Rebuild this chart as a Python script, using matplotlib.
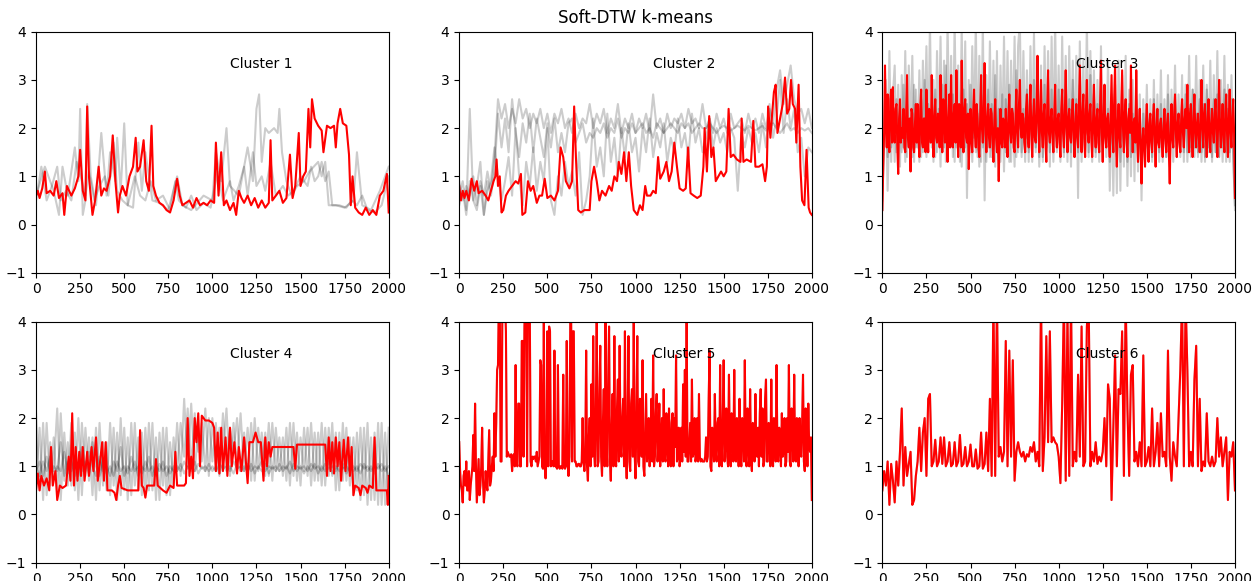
import numpy as np
import matplotlib
matplotlib.use("Agg")
import matplotlib.pyplot as plt

SZ = 2000
TITLE = "Soft-DTW k-means"
LABELS = ["Cluster 1", "Cluster 2", "Cluster 3", "Cluster 4", "Cluster 5", "Cluster 6"]

# ---- cluster 1 (irregular samples: (t, value)) ----
c1_members = [
    [(0, 0.6), (50, 1.2), (100, 0.7), (130, 0.2), (150, 1.2), (180, 0.6), (220, 1.6), (240, 0.9), (250, 2.4),
     (265, 0.2), (280, 0.5), (290, 2.5), (310, 1.0), (340, 0.4), (370, 1.9), (400, 0.6), (420, 1.5), (450, 0.9),
     (460, 1.8), (480, 0.7), (500, 2.1), (520, 0.4), (550, 0.35), (580, 1.7), (600, 0.7), (620, 1.5), (640, 1.0),
     (660, 0.5), (700, 0.45), (750, 0.3), (800, 1.0), (830, 0.4), (880, 0.3), (950, 0.6), (1000, 0.5), (1020, 1.5),
     (1050, 0.9), (1080, 2.0), (1100, 0.8), (1150, 0.6), (1200, 1.6), (1230, 0.9), (1250, 2.4), (1265, 2.7),
     (1280, 1.3), (1300, 2.0), (1320, 1.9), (1350, 2.0), (1370, 1.9), (1380, 2.4), (1395, 1.5), (1420, 0.9),
     (1450, 0.6), (1480, 0.8), (1520, 0.9), (1550, 1.1), (1600, 1.3), (1620, 1.0), (1640, 1.3), (1660, 0.4),
     (1700, 0.4), (1750, 0.35), (1800, 0.5), (1820, 1.5), (1850, 0.4), (1900, 0.3), (1950, 0.7), (2000, 1.2)],
    [(0, 0.5), (30, 1.2), (60, 0.5), (90, 0.8), (120, 1.2), (140, 0.5), (170, 0.7), (200, 0.5), (230, 1.3),
     (260, 0.9), (280, 0.6), (300, 1.1), (330, 0.5), (360, 0.8), (390, 1.0), (410, 0.6), (440, 1.7), (460, 0.7),
     (490, 0.5), (520, 0.4), (560, 1.0), (590, 0.6), (620, 0.5), (650, 0.9), (680, 0.5), (720, 0.6), (760, 0.3),
     (790, 0.9), (810, 0.5), (850, 0.35), (880, 0.6), (910, 0.3), (950, 0.45), (990, 0.35), (1030, 1.1),
     (1060, 0.5), (1100, 0.9), (1120, 0.5), (1150, 0.8), (1180, 1.2), (1200, 0.6), (1230, 1.5), (1250, 0.8),
     (1280, 1.0), (1300, 0.7), (1330, 1.3), (1360, 0.6), (1400, 0.8), (1430, 0.6), (1460, 0.7), (1500, 1.0),
     (1540, 0.8), (1560, 1.2), (1580, 0.9), (1600, 1.0), (1620, 1.3), (1640, 0.9), (1660, 1.1), (1680, 0.4),
     (1720, 0.4), (1760, 0.35), (1790, 0.5), (1820, 0.4), (1850, 0.6), (1880, 0.3), (1920, 0.25), (1960, 0.4),
     (2000, 1.0)],
]
c1_center = [
    (0, 0.6), (10, 0.7), (20, 0.55), (35, 0.75), (50, 1.1), (60, 0.65), (80, 0.7), (100, 0.6), (115, 0.9),
    (130, 0.55), (150, 0.65), (160, 0.2), (175, 0.8), (200, 0.6), (220, 0.75), (240, 1.0), (250, 1.55), (265, 0.7),
    (280, 0.5), (290, 2.45), (300, 1.0), (310, 0.6), (320, 0.2), (335, 0.5), (355, 1.2), (370, 0.6), (385, 0.75),
    (400, 0.7), (420, 1.0), (435, 1.85), (450, 0.9), (465, 0.25), (475, 0.6), (490, 0.8), (510, 0.6), (530, 1.0),
    (550, 1.2), (565, 1.8), (575, 1.1), (590, 1.2), (610, 1.75), (625, 0.9), (640, 0.7), (655, 2.05), (665, 0.8),
    (680, 0.6), (700, 0.45), (720, 0.4), (740, 0.3), (760, 0.25), (780, 0.5), (800, 0.95), (815, 0.6), (830, 0.4),
    (850, 0.45), (870, 0.5), (890, 0.35), (910, 0.55), (930, 0.4), (950, 0.45), (970, 0.4), (990, 0.5),
    (1010, 0.45), (1020, 1.7), (1035, 0.6), (1050, 1.5), (1065, 0.4), (1080, 0.5), (1100, 0.3), (1120, 0.45),
    (1135, 0.2), (1150, 0.7), (1165, 0.55), (1180, 0.45), (1200, 0.6), (1220, 0.4), (1240, 0.55), (1260, 0.35),
    (1280, 0.5), (1300, 0.35), (1320, 0.45), (1330, 1.75), (1340, 0.5), (1360, 0.6), (1380, 0.7), (1400, 0.45),
    (1420, 0.55), (1440, 1.45), (1455, 0.55), (1470, 0.8), (1490, 1.9), (1500, 0.8), (1515, 1.0), (1530, 1.1),
    (1545, 2.4), (1555, 1.6), (1565, 2.6), (1580, 2.2), (1600, 2.05), (1620, 1.95), (1630, 1.5), (1650, 2.05),
    (1670, 2.0), (1690, 2.05), (1700, 1.6), (1710, 2.1), (1725, 2.4), (1740, 2.1), (1760, 2.05), (1775, 1.45),
    (1785, 0.4), (1795, 1.0), (1810, 0.35), (1830, 0.25), (1850, 0.2), (1870, 0.35), (1890, 0.2), (1910, 0.3),
    (1930, 0.2), (1950, 0.6), (1970, 0.7), (1990, 1.05), (2000, 0.25),
]

# ---- cluster 2 (members on a 20-step grid) ----
c2_members = [
    [0.9, 0.5, 0.8, 0.6, 1.0, 0.4, 0.9, 0.6, 1.1, 0.7,
     1.4, 2.6, 2.2, 2.5, 2.0, 2.4, 2.1, 2.6, 2.2, 2.4,
     2.0, 2.3, 2.1, 2.4, 2.0, 2.3, 1.9, 2.3, 2.1, 2.4,
     2.0, 2.2, 1.9, 2.3, 2.0, 2.2, 2.1, 2.5, 2.0, 2.3,
     2.1, 2.4, 1.9, 2.2, 2.0, 2.5, 1.9, 2.2, 2.0, 2.3,
     1.9, 2.2, 2.0, 2.3, 1.9, 2.7, 2.0, 2.2, 1.9, 2.3,
     2.0, 2.2, 2.1, 2.3, 2.0, 2.4, 2.1, 2.2, 2.0, 2.5,
     2.0, 2.2, 1.9, 2.3, 2.0, 2.2, 1.9, 2.3, 2.0, 2.1,
     2.2, 1.9, 2.3, 2.0, 2.2, 1.9, 2.3, 2.0, 2.4, 2.1,
     2.8, 3.2, 2.5, 2.9, 3.3, 2.6, 2.3, 2.4, 2.1, 2.4,
     2.0],
    [0.6, 0.9, 0.3, 2.4, 0.5, 0.8, 1.3, 0.2, 0.9, 0.6,
     1.1, 2.3, 1.6, 2.2, 1.5, 2.6, 1.9, 1.4, 2.1, 1.7,
     2.3, 1.5, 2.2, 1.8, 1.4, 2.1, 1.6, 2.2, 1.5, 1.9,
     1.5, 2.1, 2.2, 1.7, 1.9, 2.1, 1.7, 1.9, 1.8, 2.0,
     1.9, 2.1, 1.8, 2.0, 1.9, 2.2, 1.8, 2.0, 1.9, 2.1,
     1.9, 2.0, 2.1, 1.9, 2.0, 1.8, 2.1, 2.0, 1.9, 2.0,
     2.1, 2.0, 1.9, 2.1, 2.0, 2.1, 1.9, 2.0, 2.1, 2.0,
     2.0, 2.1, 2.0, 1.9, 2.0, 2.05, 2.0, 1.95, 2.0, 2.05,
     2.0, 1.95, 2.05, 2.0, 1.95, 2.0, 2.05, 1.95, 2.0, 2.1,
     2.0, 1.9, 2.0, 2.1, 1.95, 2.0, 1.9, 2.0, 1.95, 2.0,
     1.9],
    [0.4, 0.7, 0.2, 0.9, 0.5, 0.3, 0.8, 0.2, 0.7, 0.9,
     1.6, 1.0, 0.5, 0.9, 1.4, 0.6, 2.0, 1.0, 0.4, 1.3,
     0.8, 1.6, 0.7, 1.3, 0.9, 2.0, 0.5, 0.2, 1.0, 0.6,
     1.3, 0.8, 1.1, 0.6, 1.5, 0.2, 0.5, 1.0, 2.2, 1.2,
     1.6, 1.0, 2.3, 1.3, 1.8, 1.0, 2.0, 1.4, 2.1, 1.5,
     1.8, 1.1, 2.0, 1.5, 2.2, 1.4, 1.9, 1.6, 2.1, 1.3,
     1.8, 1.5, 2.2, 1.6, 1.9, 1.4, 2.3, 1.7, 2.0, 1.5,
     1.8, 2.2, 1.6, 2.0, 1.7, 1.9, 1.5, 2.0, 1.8, 0.7,
     1.9, 1.6, 2.0, 1.7, 1.9, 1.5, 2.1, 1.6, 2.5, 1.8,
     2.2, 3.0, 1.9, 2.6, 2.0, 2.4, 1.5, 1.8, 1.0, 1.6,
     1.5],
]
c2_center = [
    (0, 0.8), (10, 0.5), (20, 0.7), (30, 0.55), (40, 0.7), (55, 0.5), (70, 0.95), (85, 0.7), (100, 0.9),
    (110, 0.65), (130, 0.7), (150, 0.6), (165, 0.5), (180, 0.7), (195, 0.9), (205, 1.0), (212, 1.35), (220, 0.8),
    (230, 1.0), (240, 0.25), (250, 0.3), (265, 0.6), (280, 0.7), (300, 0.8), (320, 0.9), (335, 0.85), (350, 1.05),
    (358, 0.2), (375, 0.25), (390, 0.9), (405, 0.7), (420, 0.8), (440, 0.45), (455, 0.6), (470, 0.6), (485, 0.95),
    (500, 0.55), (520, 0.6), (540, 0.5), (560, 0.7), (575, 1.6), (590, 1.4), (605, 0.9), (625, 0.75), (640, 0.9),
    (652, 2.45), (662, 1.4), (675, 0.3), (690, 0.25), (710, 0.3), (740, 0.3), (750, 0.9), (765, 1.2), (780, 0.9),
    (795, 0.5), (810, 0.7), (830, 0.6), (850, 0.8), (865, 0.7), (880, 1.0), (895, 0.9), (905, 1.3), (920, 1.05),
    (935, 1.5), (948, 0.9), (962, 1.5), (975, 0.8), (990, 0.3), (1010, 0.2), (1025, 0.4), (1040, 0.3), (1055, 0.8),
    (1065, 0.6), (1085, 0.6), (1100, 0.7), (1115, 0.65), (1128, 1.4), (1140, 0.95), (1160, 1.1), (1175, 1.3),
    (1190, 0.9), (1205, 1.1), (1220, 1.7), (1235, 1.2), (1250, 0.75), (1270, 0.7), (1285, 0.75), (1298, 1.6),
    (1312, 0.65), (1330, 0.6), (1350, 0.55), (1370, 0.6), (1385, 1.2), (1392, 2.0), (1405, 1.1), (1418, 2.25),
    (1430, 1.4), (1442, 1.6), (1455, 0.9), (1470, 1.0), (1485, 1.1), (1500, 1.0), (1515, 1.1), (1528, 2.4),
    (1540, 1.4), (1555, 1.45), (1575, 1.35), (1595, 1.3), (1602, 2.2), (1612, 1.3), (1630, 1.35), (1655, 1.3),
    (1668, 2.15), (1680, 1.2), (1700, 1.2), (1720, 1.25), (1735, 0.9), (1745, 1.2), (1752, 2.45), (1765, 1.8),
    (1775, 2.3), (1785, 2.75), (1795, 2.9), (1805, 1.9), (1820, 2.2), (1835, 2.5), (1848, 3.05), (1860, 2.3),
    (1872, 2.4), (1882, 3.0), (1892, 2.5), (1905, 2.4), (1912, 1.7), (1925, 2.9), (1935, 1.2), (1945, 0.5),
    (1958, 0.4), (1970, 1.55), (1982, 0.35), (1990, 0.25), (2000, 0.2),
]

# ---- cluster 3 (members on a 10-step grid, centroid on a 5-step grid) ----
c3_members = [
    [0.3, 2.2, 3.0, 1.4, 3.6, 1.3, 2.7, 3.3, 1.5, 2.9,
     1.2, 3.1, 1.6, 3.6, 1.4, 3.3, 1.8, 3.5, 1.3, 2.8,
     1.6, 3.2, 1.4, 3.4, 2.0, 3.7, 1.5, 4.2, 1.6, 3.0,
     1.4, 3.6, 1.8, 3.9, 1.5, 3.4, 1.3, 4.2, 1.7, 3.5,
     1.4, 4.2, 1.6, 3.3, 1.3, 4.1, 1.5, 3.8, 0.55, 3.0,
     1.5, 3.7, 1.8, 4.2, 1.4, 3.5, 1.3, 4.2, 0.5, 3.1,
     1.6, 3.8, 1.4, 3.4, 1.2, 3.6, 1.0, 3.3, 1.7, 3.9,
     1.5, 3.6, 1.3, 3.4, 1.8, 3.9, 1.4, 3.7, 4.2, 1.5,
     3.6, 1.6, 3.2, 1.3, 3.7, 1.5, 4.0, 1.6, 3.5, 1.4,
     3.3, 1.3, 3.7, 1.6, 3.6, 1.2, 3.9, 1.5, 4.2, 1.6,
     3.3, 1.4, 3.9, 1.5, 3.5, 1.3, 3.7, 1.5, 3.4, 1.4,
     3.5, 0.55, 3.8, 1.6, 3.4, 1.4, 4.2, 1.5, 3.6, 1.5,
     3.2, 1.4, 3.0, 1.5, 3.7, 1.3, 2.9, 1.6, 3.4, 0.7,
     2.7, 0.6, 2.9, 0.65, 3.4, 0.7, 3.1, 1.2, 3.5, 0.8,
     2.8, 1.0, 3.0, 0.9, 3.2, 1.1, 2.7, 0.5, 2.6, 1.4,
     2.9, 1.5, 2.6, 1.3, 3.0, 1.4, 2.7, 1.5, 3.2, 1.3,
     2.6, 1.4, 3.1, 1.2, 2.8, 1.6, 3.3, 1.4, 2.7, 1.5,
     3.1, 1.3, 2.9, 1.5, 3.5, 1.4, 2.8, 1.6, 3.5, 1.4,
     3.0, 1.5, 3.3, 1.3, 2.9, 1.6, 3.4, 1.4, 3.1, 1.5,
     3.6, 1.4, 3.0, 1.6, 3.5, 1.3, 2.9, 1.5, 3.1, 1.4,
     0.3],
    [0.5, 1.7, 2.5, 0.7, 2.2, 1.6, 2.4, 1.3, 2.6, 1.8,
     2.3, 1.5, 2.9, 1.3, 2.5, 1.7, 2.2, 1.4, 2.9, 1.6,
     2.4, 1.3, 2.6, 1.5, 3.0, 1.4, 2.5, 1.7, 2.3, 1.3,
     2.8, 1.5, 2.4, 1.2, 2.9, 1.6, 3.3, 1.4, 2.5, 1.8,
     2.7, 1.3, 3.0, 1.5, 2.4, 1.2, 2.8, 1.6, 2.5, 1.4,
     2.9, 1.3, 2.6, 1.5, 2.3, 1.2, 3.0, 1.6, 2.4, 1.3,
     2.8, 1.4, 2.5, 1.3, 3.1, 1.5, 2.4, 1.3, 2.7, 1.1,
     2.6, 1.5, 2.9, 1.3, 2.4, 1.2, 3.2, 1.5, 2.6, 1.4,
     2.4, 1.3, 2.8, 1.5, 2.5, 1.3, 3.0, 1.5, 2.7, 1.2,
     2.6, 1.4, 2.9, 1.3, 2.5, 1.5, 2.8, 1.3, 2.4, 1.5,
     2.8, 1.3, 2.5, 1.4, 2.9, 1.5, 2.6, 1.2, 3.0, 1.4,
     2.6, 1.5, 2.9, 1.3, 2.4, 1.5, 2.7, 1.4, 3.1, 1.3,
     2.7, 1.5, 2.5, 1.3, 2.8, 1.5, 2.6, 1.4, 2.4, 1.3,
     2.2, 1.5, 2.6, 1.4, 2.3, 1.3, 2.5, 1.5, 2.4, 1.3,
     2.5, 1.4, 2.3, 1.5, 2.6, 1.3, 2.4, 1.1, 2.3, 1.5,
     2.4, 1.6, 2.2, 1.4, 2.6, 1.5, 2.3, 1.3, 2.5, 1.6,
     2.3, 1.4, 2.7, 1.5, 2.4, 1.3, 2.6, 1.5, 2.3, 1.4,
     2.5, 1.5, 2.7, 1.3, 2.4, 1.6, 2.8, 1.4, 2.3, 1.5,
     2.6, 1.3, 2.5, 1.4, 2.8, 1.5, 2.4, 1.3, 2.6, 1.5,
     2.7, 1.4, 2.5, 1.3, 2.8, 1.5, 2.4, 1.3, 2.6, 1.4,
     0.4],
]
c3_center = [
    0.3, 1.2, 1.9, 3.3, 2.1, 1.6, 2.7, 1.8, 1.5, 2.6, 2.8, 1.7, 2.85, 1.9, 1.7, 2.4, 2.5, 1.6, 1.05, 2.2,
    2.6, 1.7, 2.0, 1.8, 2.4, 1.6, 1.5, 2.3, 3.1, 1.8, 1.6, 2.2, 1.1, 2.4, 2.3, 1.6, 1.5, 2.1, 2.5, 1.7,
    2.5, 1.8, 1.4, 2.4, 2.8, 1.7, 1.6, 2.2, 2.2, 1.5, 2.8, 1.9, 1.5, 2.4, 2.3, 1.7, 3.1, 2.0, 1.4, 2.2,
    2.6, 1.8, 1.7, 2.3, 2.2, 1.6, 3.1, 2.0, 1.5, 2.6, 2.4, 1.7, 2.9, 1.9, 1.3, 2.2, 2.7, 1.6, 3.1, 1.9,
    1.6, 2.3, 2.5, 1.7, 3.2, 2.1, 1.4, 2.5, 2.3, 1.6, 3.4, 2.0, 1.5, 2.4, 2.6, 1.8, 1.7, 2.3, 1.15, 1.9,
    2.4, 1.7, 1.5, 2.3, 2.8, 1.9, 1.6, 2.5, 2.2, 1.6, 1.4, 2.3, 3.1, 2.0, 1.7, 2.4, 3.35, 1.9, 1.5, 2.2,
    2.5, 1.8, 1.6, 2.4, 2.3, 1.7, 1.3, 2.1, 2.6, 1.8, 1.5, 2.0, 0.9, 1.8, 2.4, 1.7, 1.6, 2.2, 2.1, 1.6,
    2.4, 1.8, 1.4, 2.2, 2.7, 1.9, 1.7, 2.4, 2.3, 1.6, 1.5, 2.2, 2.8, 1.9, 1.6, 2.5, 3.0, 2.0, 1.8, 2.3,
    2.2, 1.7, 1.5, 2.4, 2.7, 1.8, 1.6, 2.3, 2.9, 1.9, 1.4, 2.2, 2.6, 1.8, 1.7, 2.4, 3.5, 2.1, 1.5, 2.3,
    3.0, 1.9, 1.6, 2.3, 2.5, 1.7, 1.3, 2.4, 3.2, 1.9, 1.7, 2.2, 2.4, 1.8, 1.5, 2.3, 2.9, 1.9, 1.6, 2.2,
    2.3, 1.7, 1.4, 2.4, 2.8, 1.9, 1.6, 2.3, 3.2, 2.0, 1.5, 2.2, 2.4, 1.8, 1.7, 2.3, 2.6, 1.8, 1.4, 2.1,
    2.5, 1.8, 1.6, 2.5, 3.3, 2.0, 1.5, 2.3, 2.7, 1.8, 1.4, 2.4, 3.0, 1.9, 1.7, 2.3, 2.5, 1.8, 1.4, 2.2,
    2.9, 1.9, 1.6, 2.2, 2.4, 1.7, 1.5, 2.5, 3.4, 1.9, 1.3, 2.2, 2.9, 1.8, 1.6, 2.2, 2.3, 1.7, 1.4, 2.3,
    3.1, 1.9, 1.5, 2.6, 3.3, 1.8, 1.2, 2.1, 2.5, 1.8, 1.6, 2.4, 3.2, 2.0, 1.5, 2.3, 2.6, 1.8, 1.4, 2.2,
    2.4, 1.9, 3.3, 2.0, 1.5, 2.1, 2.2, 1.7, 3.2, 1.9, 1.3, 2.0, 2.4, 1.6, 0.85, 1.7, 2.0, 1.6, 1.2, 2.0,
    2.5, 1.7, 1.3, 2.1, 2.3, 1.7, 1.5, 2.2, 2.5, 1.8, 1.2, 2.0, 2.4, 1.7, 1.6, 2.1, 2.2, 1.7, 1.4, 2.0,
    2.4, 1.8, 1.5, 2.1, 2.3, 1.5, 0.85, 1.9, 2.5, 1.8, 1.6, 2.3, 2.7, 1.9, 1.4, 2.1, 2.3, 1.7, 1.5, 2.2,
    2.6, 1.9, 1.6, 2.2, 2.4, 2.0, 2.9, 2.0, 1.5, 2.3, 2.5, 1.8, 1.4, 2.2, 2.7, 1.9, 1.6, 2.1, 2.3, 1.8,
    1.5, 2.2, 3.0, 2.0, 1.6, 2.3, 2.5, 1.8, 1.4, 2.2, 2.6, 1.8, 1.5, 2.1, 2.4, 1.9, 1.7, 2.3, 2.6, 1.9,
    1.4, 2.2, 3.0, 2.0, 1.6, 2.1, 2.5, 1.8, 1.5, 2.3, 2.7, 1.9, 1.4, 2.2, 2.8, 1.9, 1.6, 2.2, 2.6, 1.9,
    0.55,
]

# ---- cluster 4 ----
c4_members = [
    [2.1, 0.5, 1.9, 0.4, 1.5, 0.9, 2.2, 0.3, 1.7, 0.6,
     1.9, 0.5, 2.0, 0.4, 1.8, 0.7, 1.6, 0.3, 1.9, 0.6,
     1.5, 0.4, 1.8, 0.3, 2.0, 0.5, 1.6, 0.4, 1.9, 0.5,
     1.7, 0.4, 1.9, 0.5, 1.6, 0.3, 1.8, 0.4, 1.5, 0.6,
     1.9, 0.8, 2.4, 1.0, 2.3, 0.9, 1.8, 1.1, 2.2, 0.8,
     2.0, 0.9, 1.8, 1.2, 2.2, 0.8, 1.9, 1.0, 2.1, 0.9,
     1.8, 0.7, 2.0, 0.9, 1.7, 0.8, 1.9, 0.7, 1.8, 0.9,
     1.6, 0.7, 1.9, 0.8, 1.7, 0.6, 1.8, 0.8, 1.9, 0.7,
     1.7, 0.6, 1.8, 0.8, 1.9, 0.5, 1.7, 0.7, 1.8, 0.6,
     1.6, 0.5, 1.8, 0.4, 1.9, 0.3, 1.7, 0.2, 1.9, 0.2,
     1.8],
    [0.8, 1.8, 0.3, 1.9, 0.6, 1.6, 0.4, 2.1, 0.7, 1.5,
     0.6, 1.7, 0.3, 1.9, 0.8, 1.6, 0.4, 1.8, 0.5, 1.5,
     0.5, 1.9, 0.6, 1.7, 0.4, 1.8, 0.3, 1.9, 0.6, 1.6,
     0.4, 1.8, 0.5, 1.9, 0.3, 1.7, 0.6, 1.8, 0.4, 1.6,
     0.9, 1.9, 1.2, 2.2, 1.0, 2.1, 1.3, 1.9, 0.9, 2.0,
     1.1, 1.9, 0.8, 2.1, 1.0, 1.8, 1.3, 2.0, 0.9, 1.7,
     0.8, 1.9, 0.7, 1.8, 1.0, 1.7, 0.8, 1.9, 0.9, 1.6,
     0.8, 1.8, 0.6, 1.9, 0.7, 1.6, 0.9, 1.8, 0.6, 1.7,
     0.7, 1.9, 0.6, 1.8, 0.8, 1.7, 0.5, 1.9, 0.7, 1.6,
     0.4, 1.7, 0.3, 1.8, 0.2, 1.6, 0.3, 1.9, 0.2, 1.7,
     0.2],
    [0.9, 1.1, 0.8, 1.2, 0.85, 1.0, 0.9, 1.5, 0.8, 1.1,
     0.9, 1.2, 0.8, 1.4, 0.9, 1.3, 1.0, 0.8, 1.2, 0.9,
     1.0, 0.8, 1.1, 0.9, 1.4, 0.8, 1.0, 0.9, 1.1, 0.8,
     1.0, 0.9, 1.2, 0.8, 1.0, 0.9, 1.1, 0.8, 1.0, 0.9,
     1.0, 0.9, 1.1, 0.95, 1.0, 0.9, 1.05, 0.95, 1.0, 0.9,
     1.0, 0.9, 1.05, 0.95, 1.0, 0.9, 1.1, 0.95, 1.0, 0.9,
     1.05, 0.9, 1.0, 0.95, 1.1, 0.9, 1.0, 0.95, 1.0, 0.9,
     1.0, 0.95, 1.1, 0.9, 1.0, 0.95, 1.0, 0.9, 1.05, 0.95,
     1.0, 0.9, 1.05, 0.95, 1.0, 0.9, 1.1, 0.95, 1.0, 0.9,
     1.0, 0.9, 1.05, 0.95, 1.0, 0.9, 1.0, 0.95, 1.05, 0.9,
     1.0],
    [1.0, 0.8, 1.1, 0.9, 1.2, 0.8, 1.0, 0.9, 1.3, 0.85,
     1.1, 0.8, 1.0, 0.9, 1.1, 0.85, 1.5, 1.0, 0.8, 1.1,
     0.85, 1.0, 0.8, 1.1, 0.9, 1.0, 0.85, 1.2, 0.9, 1.0,
     0.85, 1.1, 0.9, 1.0, 0.8, 1.05, 0.9, 1.0, 0.85, 1.0,
     0.9, 1.05, 0.85, 1.0, 0.9, 1.1, 0.85, 1.0, 0.9, 1.05,
     0.9, 1.0, 0.85, 1.05, 0.9, 1.0, 0.85, 1.05, 0.9, 1.0,
     0.9, 1.05, 0.85, 1.0, 0.9, 1.05, 0.85, 1.0, 0.9, 1.05,
     0.9, 1.0, 0.85, 1.05, 0.9, 1.0, 0.85, 1.0, 0.9, 1.05,
     0.85, 1.0, 0.9, 1.1, 0.85, 1.0, 0.9, 1.05, 0.85, 1.0,
     0.9, 1.0, 0.85, 1.05, 0.9, 1.0, 0.85, 1.05, 0.9, 1.0,
     0.8],
]
c4_center = [
    (0, 0.5), (10, 0.85), (20, 0.5), (30, 0.8), (45, 0.6), (60, 0.75), (75, 0.5), (85, 1.4), (95, 0.6), (110, 0.9),
    (120, 0.3), (135, 0.6), (150, 0.55), (170, 0.6), (185, 1.2), (195, 0.7), (205, 2.1), (215, 0.6), (225, 1.4),
    (235, 0.7), (245, 1.3), (255, 0.8), (265, 1.4), (275, 0.7), (290, 1.3), (300, 0.8), (315, 1.4), (325, 0.9),
    (340, 1.6), (350, 0.7), (360, 1.0), (375, 1.5), (385, 0.7), (395, 1.5), (405, 0.5), (430, 0.5), (445, 0.45),
    (455, 0.3), (465, 0.6), (475, 0.8), (485, 0.55), (520, 0.5), (550, 0.5), (580, 0.5), (590, 1.75), (600, 0.6),
    (610, 0.55), (620, 0.35), (630, 0.6), (670, 0.6), (680, 1.15), (690, 0.6), (720, 0.5), (740, 0.45), (760, 0.6),
    (780, 0.55), (790, 1.3), (800, 0.6), (840, 0.6), (850, 0.65), (860, 2.0), (870, 0.8), (880, 1.2), (890, 0.75),
    (900, 2.0), (910, 1.5), (920, 2.1), (930, 1.0), (940, 2.05), (960, 1.95), (980, 1.95), (1000, 1.9),
    (1010, 1.8), (1020, 0.9), (1030, 1.7), (1040, 0.85), (1050, 1.8), (1060, 0.9), (1075, 1.6), (1085, 0.8),
    (1100, 1.8), (1110, 1.0), (1125, 1.5), (1140, 0.85), (1150, 1.4), (1165, 0.9), (1180, 1.6), (1190, 1.1),
    (1200, 0.65), (1210, 1.5), (1230, 1.5), (1245, 1.7), (1260, 1.5), (1275, 1.5), (1290, 0.7), (1300, 1.6),
    (1310, 1.0), (1320, 1.5), (1330, 1.2), (1340, 1.4), (1380, 1.4), (1420, 1.4), (1460, 1.4), (1470, 0.95),
    (1480, 1.45), (1500, 1.45), (1540, 1.45), (1580, 1.45), (1620, 1.45), (1640, 1.45), (1650, 0.8), (1660, 1.6),
    (1670, 0.9), (1680, 1.5), (1690, 0.85), (1700, 1.6), (1710, 1.0), (1720, 1.5), (1730, 0.7), (1745, 1.55),
    (1755, 0.9), (1770, 1.6), (1780, 0.8), (1790, 1.4), (1800, 0.4), (1810, 0.6), (1830, 0.55), (1840, 0.4),
    (1850, 0.6), (1870, 0.55), (1880, 0.45), (1890, 0.6), (1910, 0.55), (1920, 1.6), (1930, 0.5), (1960, 0.5),
    (1990, 0.5), (1995, 0.2), (2000, 0.8),
]

# ---- cluster 5 (single member, 5-step grid) ----
c5_center = [
    1.5, 0.9, 0.6, 0.5, 0.25, 0.8, 0.9, 0.6, 1.1, 0.5, 0.5, 0.9, 0.3, 0.6, 0.8, 1.0, 1.65, 0.9, 2.3, 1.0,
    0.25, 0.7, 1.15, 0.4, 0.6, 1.0, 1.8, 0.7, 0.25, 0.5, 0.9, 0.6, 0.5, 1.1, 1.75, 0.6, 0.7, 1.0, 1.2, 0.9,
    2.1, 1.2, 1.9, 3.0, 3.1, 4.5, 4.5, 1.1, 1.1, 4.5, 4.5, 4.5, 4.5, 3.8, 1.2, 1.3, 1.25, 1.2, 1.2, 1.25,
    0.9, 1.2, 1.25, 1.0, 3.1, 1.1, 1.0, 2.3, 2.3, 1.0, 1.0, 3.6, 3.6, 1.2, 3.9, 4.5, 4.5, 1.0, 4.5, 4.5,
    4.5, 1.1, 1.0, 1.2, 1.15, 1.2, 1.2, 1.1, 1.3, 1.0, 1.1, 1.2, 3.2, 3.1, 1.0, 0.95, 4.0, 1.0, 0.75, 1.2,
    3.8, 1.0, 3.9, 3.8, 1.0, 1.1, 1.1, 1.0, 3.4, 1.0, 1.0, 0.95, 3.1, 1.0, 0.95, 1.0, 1.0, 0.95, 2.9, 1.0,
    0.95, 1.0, 3.6, 1.1, 0.8, 1.2, 4.0, 4.0, 1.1, 3.8, 3.8, 1.1, 1.1, 1.0, 1.0, 1.05, 1.05, 1.0, 1.0, 1.1,
    2.0, 1.1, 0.9, 1.2, 3.4, 1.0, 0.7, 1.6, 2.0, 1.0, 2.7, 1.2, 3.7, 1.3, 1.0, 2.2, 4.0, 1.0, 1.1, 2.5,
    3.5, 1.2, 0.8, 1.9, 2.6, 1.0, 4.0, 1.5, 1.0, 2.8, 3.9, 1.1, 0.7, 1.8, 2.5, 1.0, 3.7, 1.2, 1.0, 2.2,
    2.8, 1.1, 3.5, 1.4, 1.2, 2.0, 2.4, 1.0, 3.8, 1.3, 0.75, 1.9, 3.7, 1.1, 0.9, 2.3, 2.6, 1.2, 4.0, 1.3,
    0.75, 2.0, 3.7, 1.1, 1.0, 2.4, 2.2, 1.2, 3.2, 1.0, 0.8, 1.7, 2.5, 1.1, 1.3, 2.0, 1.0, 1.5, 2.4, 1.1,
    3.3, 1.0, 1.2, 2.1, 2.5, 1.1, 1.5, 2.3, 1.0, 1.6, 2.0, 1.1, 2.6, 1.2, 1.1, 2.1, 1.5, 1.0, 2.2, 1.3,
    1.0, 1.9, 2.1, 1.0, 2.0, 1.4, 3.3, 1.1, 1.2, 1.8, 1.0, 1.2, 1.8, 1.1, 2.7, 1.3, 3.0, 1.2, 4.0, 1.1,
    1.1, 1.5, 1.9, 1.1, 2.8, 1.2, 1.3, 2.0, 1.1, 1.2, 2.0, 1.1, 2.5, 1.2, 1.1, 1.15, 1.1, 1.1, 1.1, 1.2,
    1.6, 1.1, 1.2, 2.4, 3.4, 1.0, 0.9, 1.8, 1.5, 1.1, 2.5, 1.3, 1.1, 1.9, 2.0, 1.0, 3.1, 1.2, 1.0, 2.0,
    3.2, 1.1, 1.5, 2.2, 1.2, 1.0, 2.9, 1.3, 1.0, 2.1, 1.8, 1.1, 3.0, 1.2, 1.1, 2.0, 1.6, 1.0, 2.4, 1.3,
    1.0, 2.0, 1.8, 1.1, 3.2, 1.2, 1.0, 2.2, 1.5, 1.0, 2.6, 1.2, 0.9, 1.9, 1.7, 1.1, 2.5, 1.3, 1.2, 1.8,
    1.0, 2.1, 2.6, 1.2, 2.2, 1.0, 1.1, 2.4, 2.8, 1.1, 1.1, 1.9, 1.6, 1.0, 2.8, 1.3, 1.0, 2.0, 1.9, 1.1,
    3.1, 1.2, 1.1, 1.8, 1.5, 1.0, 2.1, 1.2, 1.3, 2.0, 1.0, 1.1, 2.0, 1.3, 3.1, 1.1, 1.0, 2.2, 1.7, 1.1,
    2.9, 1.2, 1.1, 2.0, 1.6, 1.0, 2.0, 1.3, 1.2, 1.9, 2.9, 1.1, 0.9, 2.2, 1.8, 1.0, 2.3, 1.4, 1.3, 1.6,
    0.3,
]

# ---- cluster 6 (single member, 10-step grid) ----
c6_center = [
    0.5, 0.9, 0.6, 1.1, 0.2, 1.05, 0.7, 0.25, 1.1, 0.6,
    1.3, 2.2, 0.6, 1.4, 0.8, 1.05, 1.3, 0.2, 0.3, 0.8,
    1.1, 1.8, 0.9, 1.7, 2.0, 0.8, 2.4, 2.5, 1.0, 1.1,
    1.55, 1.0, 1.1, 1.6, 1.05, 1.6, 1.0, 1.1, 1.5, 1.0,
    1.05, 1.5, 1.0, 1.1, 1.65, 1.0, 1.05, 1.4, 1.0, 1.1,
    1.45, 1.0, 1.0, 1.35, 0.95, 1.0, 1.7, 0.95, 1.05, 1.7,
    0.9, 2.4, 0.8, 4.5, 0.8, 4.5, 1.2, 1.4, 1.1, 1.3,
    3.6, 1.0, 3.4, 1.2, 3.2, 0.7, 1.3, 1.5, 1.3, 1.2,
    1.3, 1.1, 1.25, 1.2, 1.4, 1.3, 1.5, 1.1, 1.3, 1.0,
    4.5, 0.9, 1.6, 3.7, 1.5, 3.8, 1.5, 1.6, 1.5, 1.45,
    1.2, 0.65, 2.3, 4.5, 0.7, 4.2, 0.8, 4.5, 1.0, 1.3,
    1.1, 2.9, 1.2, 3.9, 1.0, 1.1, 3.9, 4.5, 1.0, 1.3,
    1.1, 1.5, 1.05, 1.2, 1.1, 1.3, 2.0, 1.0, 2.7, 2.4,
    0.3, 1.8, 3.3, 1.0, 2.6, 2.5, 3.8, 0.8, 4.5, 2.2,
    0.8, 2.9, 3.1, 1.1, 1.3, 1.0, 1.5, 1.0, 3.3, 1.0,
    1.1, 1.4, 1.0, 2.2, 1.0, 1.3, 1.9, 1.0, 2.1, 1.2,
    1.3, 1.0, 3.4, 1.2, 0.7, 1.5, 1.2, 1.0, 2.0, 3.0,
    4.5, 1.0, 4.5, 3.0, 1.0, 1.3, 1.0, 2.8, 3.5, 1.0,
    2.4, 0.9, 1.1, 1.0, 2.1, 1.1, 1.0, 1.2, 1.0, 1.1,
    2.0, 1.2, 1.6, 1.0, 1.3, 1.6, 0.3, 1.3, 1.2, 1.5,
    0.5,
]


def as_xy(series):
    # a series is either (t, value) pairs or values on an even grid over [0, SZ]
    if isinstance(series[0], tuple):
        t, v = zip(*series)
        return np.array(t), np.array(v)
    v = np.array(series)
    return np.linspace(0, SZ, len(v)), v


clusters = [
    (c1_members, c1_center),
    (c2_members, c2_center),
    (c3_members, c3_center),
    (c4_members, c4_center),
    ([c5_center], c5_center),
    ([c6_center], c6_center),
]

fig = plt.figure(figsize=(12.52, 5.81), dpi=100)
for yi, (members, center) in enumerate(clusters):
    ax = plt.subplot(2, 3, yi + 1)
    for m in members:
        x, y = as_xy(m)
        ax.plot(x, y, "k-", alpha=.2)
    x, y = as_xy(center)
    ax.plot(x, y, "r-")
    ax.text(0.55, 0.85, LABELS[yi], transform=ax.transAxes)
    ax.set_xlim(0, SZ)
    ax.set_ylim(-1, 4)
    if yi == 1:
        ax.set_title(TITLE)

plt.subplots_adjust(left=0.0288, right=0.9864, bottom=0.0315, top=0.9454, wspace=0.2, hspace=0.203)
plt.savefig("out.png", dpi=100)
